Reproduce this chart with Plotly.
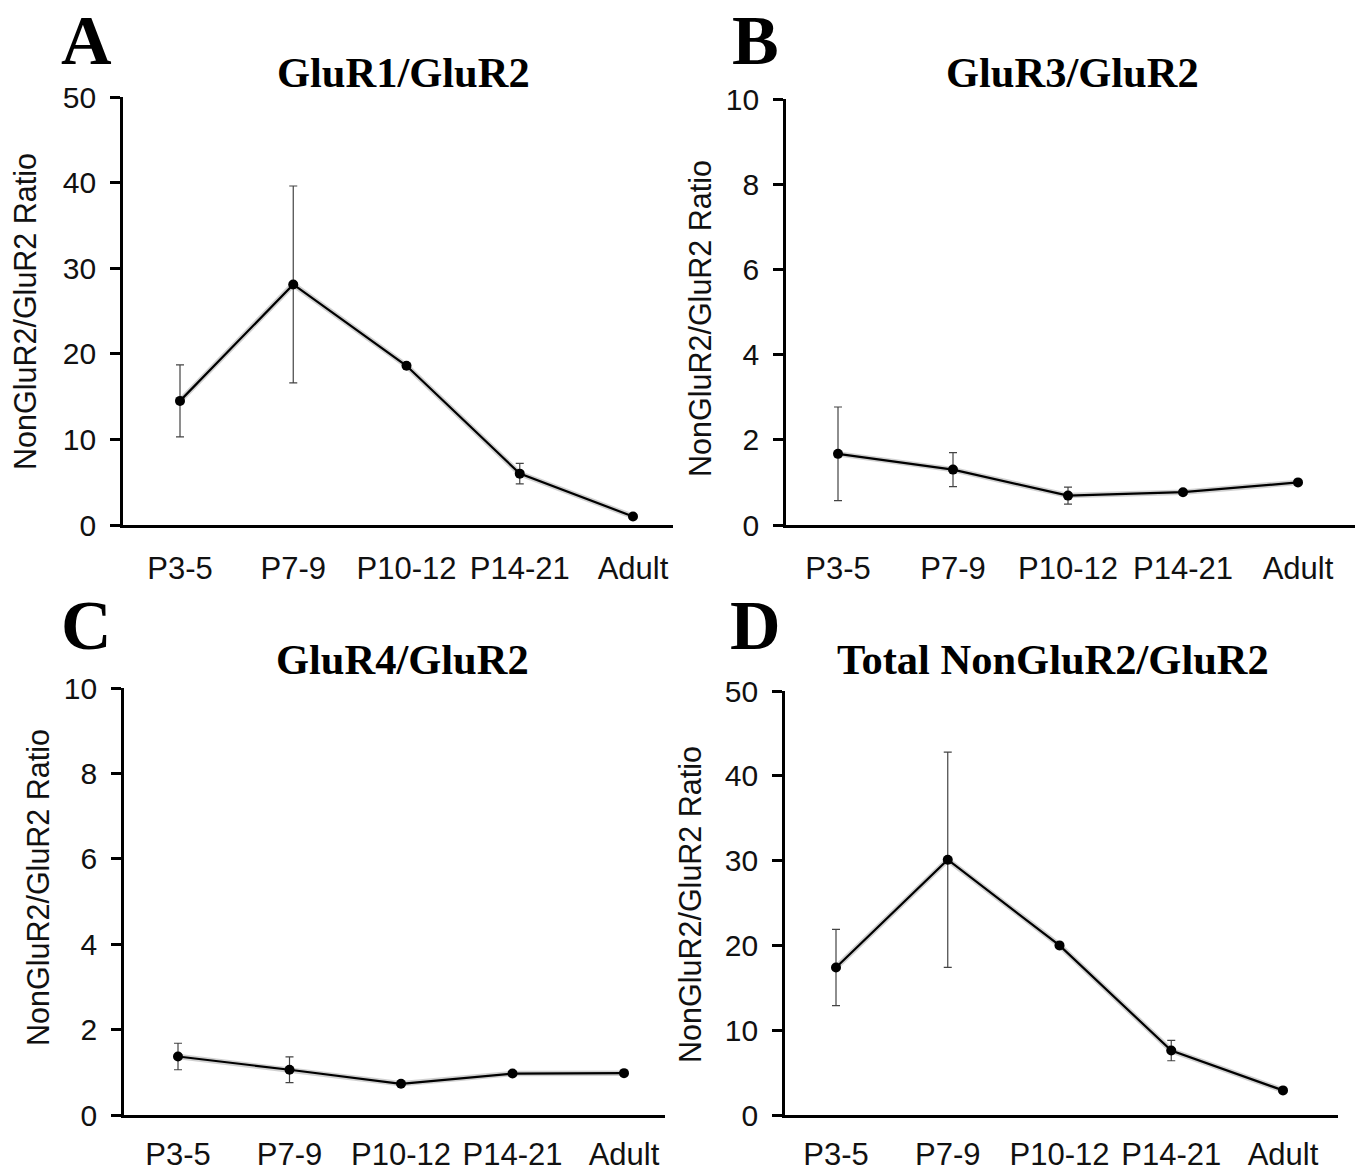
import plotly.graph_objects as go

W, H = 1360, 1171

categories = ["P3-5", "P7-9", "P10-12", "P14-21", "Adult"]

gluR1_mean = [14.5, 28.1, 18.6, 6.0, 1.0]
gluR1_err = [4.2, 11.5, 0.2, 1.2, 0.1]

gluR3_mean = [1.67, 1.30, 0.69, 0.77, 1.0]
gluR3_err = [1.10, 0.40, 0.20, 0.05, 0.02]

gluR4_mean = [1.37, 1.06, 0.73, 0.97, 0.98]
gluR4_err = [0.31, 0.30, 0.04, 0.05, 0.02]

total_mean = [17.4, 30.1, 20.0, 7.6, 2.9]
total_err = [4.5, 12.7, 0.2, 1.2, 0.1]

titles = ["GluR1/GluR2", "GluR3/GluR2", "GluR4/GluR2", "Total NonGluR2/GluR2"]
letters = ["A", "B", "C", "D"]
ymax = [50, 10, 10, 50]
ydtick = [10, 2, 2, 10]
ytitle = "NonGluR2/GluR2 Ratio"

means = [gluR1_mean, gluR3_mean, gluR4_mean, total_mean]
errs = [gluR1_err, gluR3_err, gluR4_err, total_err]

# layout geometry in pixels: (axis x, first cat x, last cat x, axis right end, y top, y bottom)
panels = [
    (123, 180, 633, 673, 97, 525),
    (786, 838, 1298, 1355, 99, 525),
    (124, 178, 624, 665, 688, 1115),
    (785, 836, 1283, 1338, 691, 1115),
]
xlabel_standoff = [14, 14, 10, 10]
title_pos = [(403, 72), (1072, 72), (402, 660), (1053, 660)]
letter_pos = [(86, 40), (755, 40), (86, 625), (755, 625)]
ytitle_pos = [(25, 312), (700, 318), (38, 888), (690, 905)]

fig = go.Figure()
annotations = []

for i in range(4):
    ax_x, c0, c4, xend, ytop, ybot = panels[i]
    s = (c4 - c0) / 4.0
    xr = [(ax_x - c0) / s, (xend - c0) / s]
    xn = "x" if i == 0 else f"x{i+1}"
    yn = "y" if i == 0 else f"y{i+1}"
    xk = "xaxis" if i == 0 else f"xaxis{i+1}"
    yk = "yaxis" if i == 0 else f"yaxis{i+1}"

    # soft shadow under the line
    fig.add_trace(go.Scatter(
        x=categories, y=means[i], mode="lines", xaxis=xn, yaxis=yn,
        line=dict(color="rgba(0,0,0,0.18)", width=5.5), hoverinfo="skip",
        showlegend=False))
    fig.add_trace(go.Scatter(
        x=categories, y=means[i], mode="lines+markers", xaxis=xn, yaxis=yn,
        line=dict(color="black", width=2.2),
        marker=dict(color="black", size=10),
        error_y=dict(type="data", array=errs[i], visible=True,
                     color="#444444", thickness=1.2, width=4),
        showlegend=False))

    fig.layout[xk] = dict(
        domain=[ax_x / W, xend / W], range=xr, type="category",
        showline=True, linecolor="black", linewidth=3, ticks="",
        showgrid=False, zeroline=False, automargin=False,
        tickfont=dict(family="Liberation Sans, Arial", size=31, color="#111"),
        ticklabelstandoff=xlabel_standoff[i], anchor=yn, fixedrange=True)
    fig.layout[yk] = dict(
        domain=[(H - ybot) / H, (H - ytop) / H], range=[0, ymax[i]],
        dtick=ydtick[i], tick0=0, automargin=False,
        showline=True, linecolor="black", linewidth=2.8,
        ticks="outside", ticklen=10, tickwidth=2.5, tickcolor="black",
        showgrid=False, zeroline=False,
        tickfont=dict(family="Liberation Sans, Arial", size=30, color="#111"),
        ticklabelstandoff=8, anchor=xn, fixedrange=True)

    tx, ty = title_pos[i]
    annotations.append(dict(
        text=f"<b>{titles[i]}</b>", x=tx / W, y=(H - ty) / H, xref="paper",
        yref="paper", showarrow=False, xanchor="center", yanchor="middle",
        font=dict(family="Liberation Serif, Times New Roman", size=42.5,
                  color="black")))
    lx, ly = letter_pos[i]
    annotations.append(dict(
        text=f"<b>{letters[i]}</b>", x=lx / W, y=(H - ly) / H, xref="paper",
        yref="paper", showarrow=False, xanchor="center", yanchor="middle",
        font=dict(family="Liberation Serif, Times New Roman", size=70,
                  color="black")))
    yx, yy = ytitle_pos[i]
    annotations.append(dict(
        text=ytitle, x=yx / W, y=(H - yy) / H, xref="paper", yref="paper",
        showarrow=False, xanchor="center", yanchor="middle", textangle=-90,
        font=dict(family="Liberation Sans, Arial", size=30.5, color="#111")))

fig.update_layout(
    width=W, height=H, margin=dict(l=0, r=0, t=0, b=0, pad=0),
    autosize=False,
    paper_bgcolor="white", plot_bgcolor="white",
    annotations=annotations, showlegend=False)

fig.write_html(
    "out.html", config={"displayModeBar": False},
    post_script="document.body.style.margin='0';"
                "document.body.style.overflow='hidden';")
